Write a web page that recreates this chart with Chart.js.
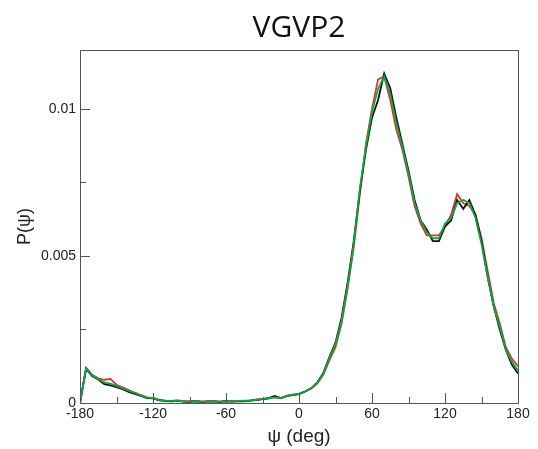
<!DOCTYPE html>
<html>
<head>
<meta charset="utf-8">
<script src="https://cdn.jsdelivr.net/npm/chart.js@4.4.1/dist/chart.umd.min.js"></script>
<style>
  html, body { margin: 0; padding: 0; background: #fff; }
</style>
</head>
<body>
<canvas id="myChart" width="538" height="449"></canvas>
<script>
// psi angle grid (deg)
const psi = [-180,-175,-170,-165,-160,-155,-150,-145,-140,-135,-130,-125,-120,-115,-110,-105,-100,-95,-90,-85,-80,-75,-70,-65,-60,-55,-50,-45,-40,-35,-30,-25,-20,-15,-10,-5,0,5,10,15,20,25,30,35,40,45,50,55,60,65,70,75,80,85,90,95,100,105,110,115,120,125,130,135,140,145,150,155,160,165,170,175,180];

const pGreen = [0,0.00118,0.00094,0.00082,0.0007,0.00066,0.00058,0.0005,0.00042,0.00034,0.00026,0.00018,0.00017,0.0001,0.00008,0.00007,0.00008,0.00006,0.00005,0.00006,0.00005,0.00005,0.00006,0.00005,0.00006,0.00006,0.00007,0.00007,0.00008,0.00011,0.00014,0.00016,0.00019,0.00017,0.00024,0.00028,0.00031,0.0004,0.0005,0.00069,0.001,0.00152,0.002,0.0028,0.004,0.0054,0.0073,0.0087,0.0099,0.01067,0.0111,0.0105,0.0095,0.0087,0.0078,0.0068,0.0062,0.0058,0.0056,0.0056,0.0061,0.0063,0.0068,0.0069,0.0068,0.0063,0.0054,0.0043,0.0033,0.0026,0.0018,0.0014,0.0011];

const pBlack = [0,0.00116,0.00092,0.0008,0.00064,0.0006,0.00054,0.00047,0.00038,0.00031,0.00024,0.00017,0.00016,0.00009,0.00007,0.00006,0.00007,0.00005,0.00004,0.00006,0.00004,0.00005,0.00005,0.00004,0.00006,0.00005,0.00006,0.00006,0.00008,0.0001,0.00013,0.00016,0.00024,0.00017,0.00023,0.00028,0.0003,0.00039,0.0005,0.0007,0.00102,0.00156,0.00205,0.0029,0.0041,0.0055,0.0072,0.0086,0.0097,0.0103,0.0112,0.0107,0.0097,0.0088,0.0079,0.0069,0.0062,0.0059,0.0055,0.0055,0.006,0.0062,0.0069,0.0066,0.0069,0.0064,0.0055,0.0043,0.0033,0.0025,0.0018,0.0013,0.001];

const pRed = [0,0.0012,0.00096,0.00084,0.00079,0.00082,0.00062,0.00053,0.00044,0.00035,0.00027,0.00019,0.00017,0.00011,0.00008,0.00007,0.00009,0.00006,0.00006,0.00007,0.00005,0.00006,0.00007,0.00005,0.00007,0.00006,0.00007,0.00008,0.00008,0.00012,0.00013,0.00017,0.0002,0.00016,0.00025,0.00027,0.00031,0.00039,0.00049,0.00066,0.00097,0.00145,0.0019,0.0027,0.0039,0.0053,0.0071,0.0088,0.01,0.011,0.0111,0.0103,0.0093,0.0086,0.0077,0.0067,0.0061,0.0057,0.0057,0.0057,0.006,0.0064,0.0071,0.0068,0.0067,0.0064,0.0056,0.0045,0.0034,0.0027,0.0019,0.0015,0.00125];

const xTicks = [-180,-120,-60,0,60,120,180];
const xMinor = [-150,-90,-30,30,90,150];
const yTicks = [0,0.005,0.01];
const yMinor = [0.0025,0.0075];

const chartTitle = "VGVP2";

const toPts = arr => psi.map((x, i) => ({x: x, y: arr[i]}));

const frame = {
  id: 'frame',
  afterDraw(chart) {
    const {ctx, chartArea: a, scales} = chart;
    ctx.save();
    ctx.strokeStyle = '#555';
    ctx.lineWidth = 1;
    ctx.strokeRect(a.left + 0.5, a.top + 0.5, a.right - a.left, a.bottom - a.top);
    ctx.beginPath();
    xTicks.forEach(v => {
      const px = Math.round(scales.x.getPixelForValue(v)) + 0.5;
      ctx.moveTo(px, a.bottom); ctx.lineTo(px, a.bottom - 10);
    });
    xMinor.forEach(v => {
      const px = Math.round(scales.x.getPixelForValue(v)) + 0.5;
      ctx.moveTo(px, a.bottom); ctx.lineTo(px, a.bottom - 6);
    });
    yTicks.forEach(v => {
      const py = Math.round(scales.y.getPixelForValue(v)) + 0.5;
      ctx.moveTo(a.left, py); ctx.lineTo(a.left + 10, py);
    });
    yMinor.forEach(v => {
      const py = Math.round(scales.y.getPixelForValue(v)) + 0.5;
      ctx.moveTo(a.left, py); ctx.lineTo(a.left + 6, py);
    });
    ctx.stroke();
    // title centred over the plot box
    ctx.fillStyle = '#111';
    ctx.font = '30px "Open Sans"';
    ctx.textAlign = 'center';
    ctx.textBaseline = 'alphabetic';
    ctx.fillText(chartTitle, (a.left + a.right) / 2, 37);
    ctx.restore();
  }
};

const ctx = document.getElementById('myChart');

new Chart(ctx, {
  type: 'line',
  data: {
    datasets: [
      { data: toPts(pGreen), borderColor: '#0aa84a', borderWidth: 1.8 },
      { data: toPts(pBlack), borderColor: '#111111', borderWidth: 1.8 },
      { data: toPts(pRed), borderColor: '#e8302a', borderWidth: 1.8 }
    ]
  },
  options: {
    responsive: false,
    animation: false,
    devicePixelRatio: 1,
    layout: { padding: { left: 0, right: 20, top: 50, bottom: 0 } },
    elements: { point: { radius: 0 }, line: { tension: 0 } },
    plugins: { legend: { display: false }, tooltip: { enabled: false } },
    scales: {
      x: {
        type: 'linear',
        min: -180, max: 180,
        afterBuildTicks: s => { s.ticks = xTicks.map(v => ({value: v})); },
        afterFit: s => { s.height = 46; },
        grid: { display: false, drawTicks: false },
        border: { display: false },
        ticks: {
          padding: 3,
          color: '#222',
          maxRotation: 0,
          autoSkip: false,
          font: { family: '"Liberation Sans"', size: 14 },
          callback: v => String(v)
        },
        title: {
          display: true,
          text: 'ψ (deg)',
          color: '#222',
          font: { family: '"Liberation Sans"', size: 19 },
          padding: { top: 0, bottom: 1 }
        }
      },
      y: {
        min: 0, max: 0.012,
        afterBuildTicks: s => { s.ticks = yTicks.map(v => ({value: v})); },
        afterFit: s => { s.width = 80; },
        grid: { display: false, drawTicks: false },
        border: { display: false },
        ticks: {
          padding: 4,
          color: '#222',
          font: { family: '"Liberation Sans"', size: 14 },
          callback: v => v === 0 ? '0' : String(v)
        },
        title: {
          display: true,
          text: 'P(ψ)',
          color: '#222',
          font: { family: '"Liberation Sans"', size: 18 },
          padding: { top: 14, bottom: 0 }
        }
      }
    }
  },
  plugins: [frame]
});
</script>
</body>
</html>
